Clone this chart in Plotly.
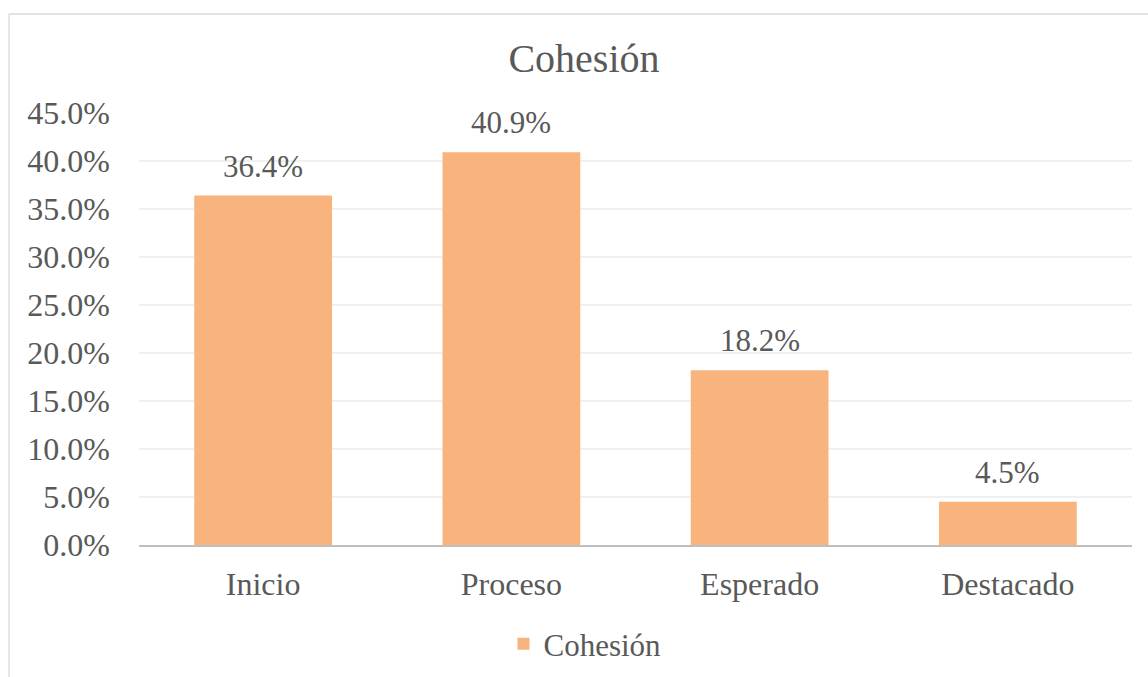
import plotly.graph_objects as go

categories = ["Inicio", "Proceso", "Esperado", "Destacado"]
values = [0.364, 0.409, 0.182, 0.045]
series_name = "Cohesión"
title_text = "Cohesión"

FONT = "Liberation Serif, Times New Roman, serif"
TXT = "#595959"
BAR = "#F8B47C"

fig = go.Figure()
fig.add_trace(go.Bar(
    x=categories, y=values, name=series_name,
    marker=dict(color=BAR, line=dict(width=0)),
    cliponaxis=False,
    showlegend=True,
))

for c, v in zip(categories, values):
    fig.add_annotation(x=c, y=v, text=f"{v*100:.1f}%", showarrow=False,
                       yanchor="bottom", yshift=10,
                       font=dict(family=FONT, size=31, color=TXT))

fig.update_layout(
    width=1148, height=677,
    margin=dict(l=139, r=16, t=113, b=132, autoexpand=False),
    paper_bgcolor="white", plot_bgcolor="white",
    bargap=0.445,
    font=dict(family=FONT, color=TXT, size=31),
    title=dict(text=title_text, x=584/1148, xref="container", xanchor="center",
               y=1 - 58/677, yref="container", yanchor="middle",
               font=dict(family=FONT, size=40, color=TXT)),
    xaxis=dict(showgrid=False, showline=True, linecolor="#BFBFBF", linewidth=2,
               ticks="", tickfont=dict(family=FONT, size=32, color=TXT),
               ticklabelstandoff=10, automargin=False),
    yaxis=dict(range=[0, 0.45], dtick=0.05, tickformat=".1%",
               showgrid=True, gridcolor="#F0F0F0", gridwidth=1.5,
               zeroline=False, showline=False, ticks="",
               tickfont=dict(family=FONT, size=32, color=TXT),
               ticklabelstandoff=28, automargin=False),
    legend=dict(orientation="h", x=585/1148, xref="container", xanchor="center",
                y=1 - 644/677, yref="container", yanchor="middle",
                font=dict(family=FONT, size=31, color=TXT),
                itemwidth=30),
    shapes=[
        dict(type="line", xref="paper", yref="paper",
             x0=(9-139)/993, x1=(1160-139)/993, y0=(545-14)/432, y1=(545-14)/432,
             line=dict(color="#D9D9D9", width=1.3)),
        dict(type="line", xref="paper", yref="paper",
             x0=(9-139)/993, x1=(9-139)/993, y0=(545-14)/432, y1=(545-690)/432,
             line=dict(color="#D9D9D9", width=1.3)),
    ],
)

fig.write_html("out.html")
